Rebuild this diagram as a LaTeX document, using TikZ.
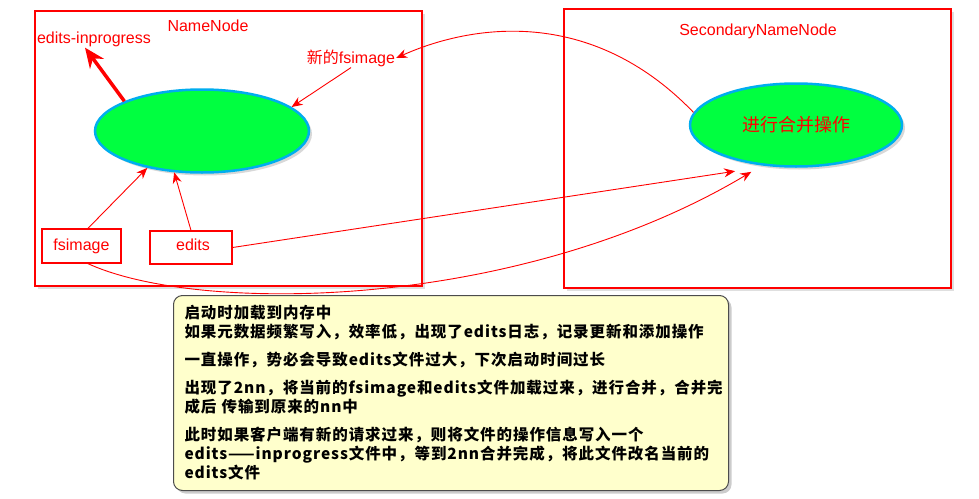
\documentclass[tikz,border=0pt]{standalone}
\usepackage{fontspec}
\setmainfont{Liberation Sans}
\newfontfamily\cjk{Noto Sans CJK SC}
\newfontfamily\notefont[LetterSpace=6]{Noto Sans CJK SC}
\usetikzlibrary{shapes.geometric, arrows.meta, shadows}

\definecolor{lime}{RGB}{0,255,64}
\definecolor{notey}{RGB}{255,255,204}

\tikzset{
  hostbox/.style={draw=red, line width=1.2pt, fill=white,
    drop shadow={opacity=0.25, shadow xshift=3pt, shadow yshift=-3pt}},
  filebox/.style={draw=red, line width=1.2pt, fill=white},
  disk/.style={ellipse, draw=cyan, line width=2.5pt, fill=lime,
    drop shadow={opacity=0.3, shadow xshift=3pt, shadow yshift=-3pt}},
  tag/.style={text=red, font=\fontsize{16}{19}\selectfont, inner sep=1pt},
  link/.style={draw=red, line width=0.9pt, -{Stealth[length=11pt,width=9pt]}},
  fat/.style={draw=red, line width=3.5pt, -{Stealth[length=20pt,width=17pt]}},
  notebox/.style={draw=black!70, line width=1pt, fill=notey, rounded corners=9pt,
    drop shadow={opacity=0.4, shadow xshift=3pt, shadow yshift=-3pt},
    anchor=north west, minimum width=555pt, minimum height=195pt,
    text width=533pt, inner xsep=11pt, align=left,
    font=\notefont\bfseries\fontsize{15.5}{19}\selectfont}
}

\begin{document}
\begin{tikzpicture}[x=1pt, y=-1pt]
\useasboundingbox (0,0) rectangle (979,498);

% the two hosts
\node[hostbox, minimum width=387pt, minimum height=275pt] (nnbox) at (228.5,148.5) {};
\node[hostbox, minimum width=387pt, minimum height=279pt] (snbox) at (757.5,148.5) {};
\node[tag] (nnlbl) at (208,26) {NameNode};
\node[tag] (snlbl) at (758,31) {SecondaryNameNode};

% memory of each node
\node[disk, minimum width=214pt, minimum height=83pt] (nn) at (202,131) {};
\node[disk, minimum width=212pt, minimum height=83pt, text=red,
  font=\cjk\fontsize{18}{20}\selectfont] (sn) at (796,125) {进行合并操作};

\node[tag] (ip) at (94,39) {edits-inprogress};
\node[tag] (new) at (351,58) {{\cjk 新的}fsimage};

% files on disk
\node[filebox, minimum width=79pt, minimum height=34pt] (fs) at (81.5,246) {};
\node[tag] at (fs) {fsimage};
\node[filebox, minimum width=82pt, minimum height=33pt] (ed) at (191,247.5) {};
\node[tag] at (193,245) {edits};

% arrows
\draw[fat] (nn.159) -- ([xshift=-9pt]ip.south);
\draw[link] (new.south) -- (nn.15);
\draw[link] (fs.70) -- (nn.214);
\draw[link] (ed.north) -- (nn.236);
\draw[link] (sn.173) .. controls (590,5) and (470,25) .. (new.east);
\draw[link] (ed.east) -- ([yshift=-11pt]sn.210);
\draw[link] (fs.-70) .. controls (200,315) and (520,310) .. ([yshift=-8pt]sn.221);

% explanation
\node[notebox] (note) at (173,295) {启动时加载到内存中\\
如果元数据频繁写入，效率低，出现了edits日志，记录更新和添加操作\\[9pt]
一直操作，势必会导致edits文件过大，下次启动时间过长\\[9pt]
出现了2nn，将当前的fsimage和edits文件加载过来，进行合并，合并完\\
成后 传输到原来的nn中\\[9pt]
此时如果客户端有新的请求过来，则将文件的操作信息写入一个\\
edits——inprogress文件中，等到2nn合并完成，将此文件改名当前的\\
edits文件};
\end{tikzpicture}
\end{document}
